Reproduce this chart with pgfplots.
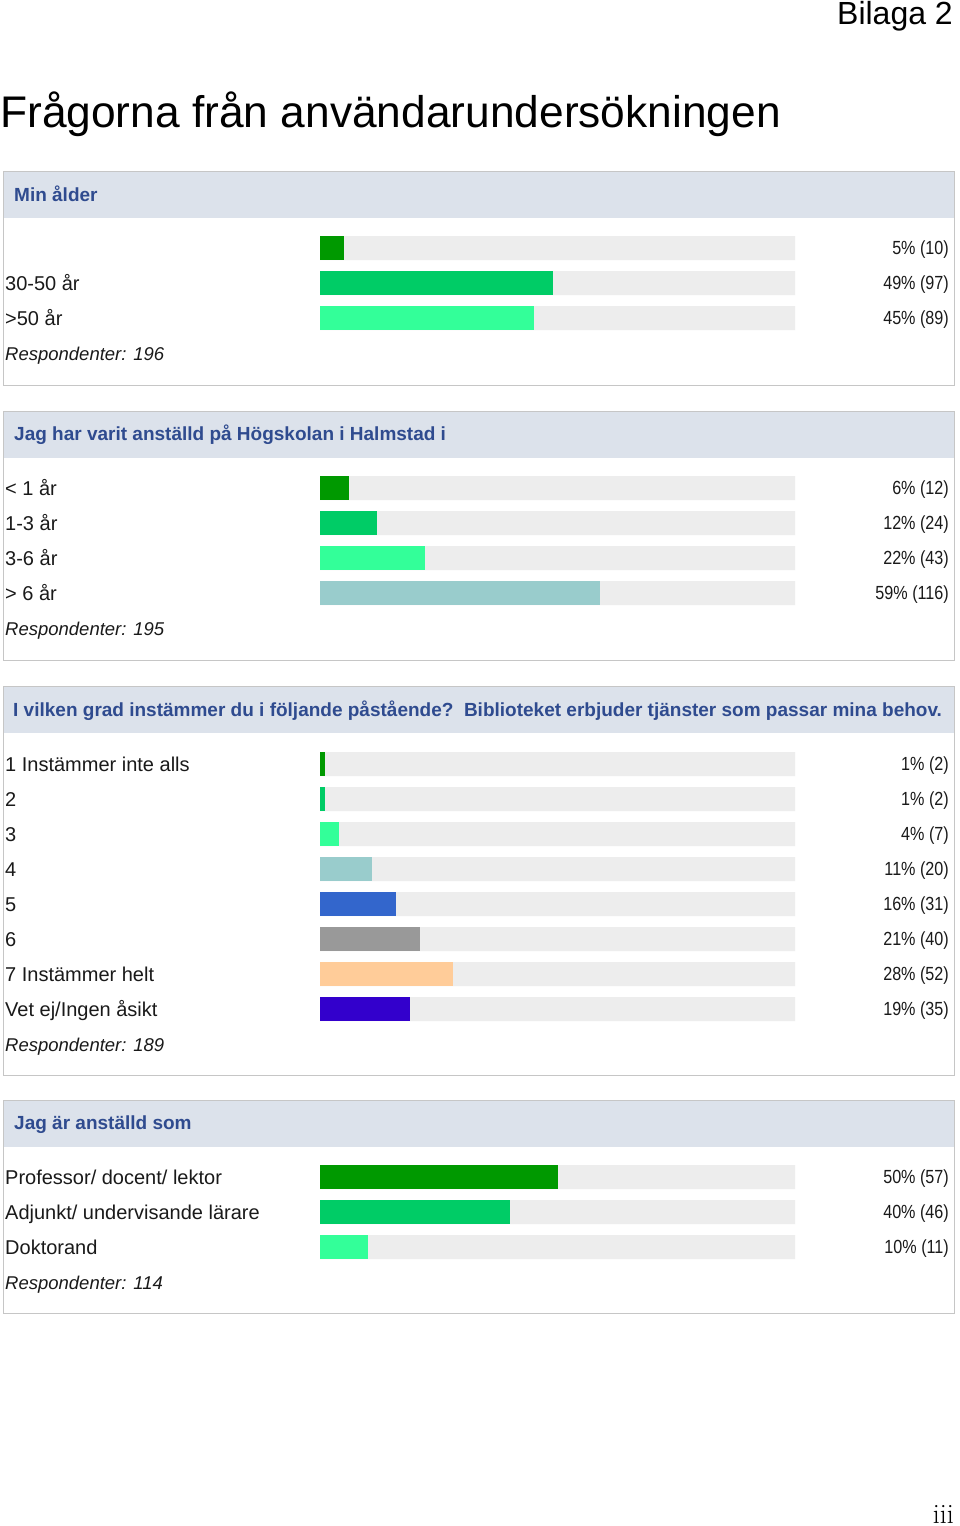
\documentclass[border=0pt]{standalone}
\usepackage{fontspec}
\setmainfont{Liberation Sans}
\newfontfamily\numfont[FakeStretch=0.85]{Liberation Sans}
\newfontfamily\lmfont{Latin Modern Roman}
\usepackage{pgfplots}
\pgfplotsset{compat=1.18}
\definecolor{cA}{HTML}{009900}
\definecolor{cB}{HTML}{00CC66}
\definecolor{cC}{HTML}{33FF99}
\definecolor{cD}{HTML}{99CCCC}
\definecolor{cE}{HTML}{3366CC}
\definecolor{cF}{HTML}{999999}
\definecolor{cG}{HTML}{FFCC99}
\definecolor{cH}{HTML}{3300CC}
\definecolor{hdr}{HTML}{DCE2EB}
\definecolor{hdrtext}{HTML}{2F4B8F}
\definecolor{brd}{HTML}{C6C6C6}
\definecolor{trk}{HTML}{EDEDED}
\definecolor{txt}{HTML}{1A1A1A}
\newcommand\rowfont{\fontsize{20}{24}\selectfont}
\newcommand\resp[1]{{\itshape\fontsize{18.5}{22}\selectfont #1}}
\newcommand\pctfont{\numfont\fontsize{19}{22}\selectfont}
\newcommand\hfont{\bfseries\fontsize{19}{22}\selectfont}
\pgfplotsset{
  panel/.style={
    at={(320pt,#1)}, anchor=north west,
    scale only axis, width=475pt,
    xmin=0, xmax=100, y dir=reverse,
    axis line style={draw=none}, tick style={draw=none},
    major tick length=0pt,
    xtick=\empty, clip=false,
    yticklabel style={anchor=base west, inner sep=0pt, xshift=-315pt, yshift=-7pt, font=\rowfont, text=txt},
  },
  bgbar/.style={xbar, bar width=24pt, bar shift=0pt, draw=none, fill=trk,
    point meta=explicit symbolic, nodes near coords,
    every node near coord/.append style={anchor=base east, inner sep=0pt, xshift=154pt, yshift=-6.5pt, font=\pctfont, text=txt}},
  fgbar/.style={xbar, bar width=24pt, bar shift=0pt, draw=none, fill=#1},
}
\begin{document}
\begin{tikzpicture}[x=1pt,y=1pt]
\path[use as bounding box] (0,0) rectangle (960,-1526);
% page titles
\node[anchor=base east, inner sep=0pt, font=\fontsize{32}{36}\selectfont] at (953,-24) {Bilaga 2};
\node[anchor=base west, inner sep=0pt, font=\fontsize{44.3}{50}\selectfont] at (0,-127) {Frågorna från användarundersökningen};
\node[anchor=base east, inner sep=0pt, font=\lmfont\fontsize{28}{32}\selectfont] at (954,-1523) {iii};
% panel frames
\draw[brd, fill=white] (3,-171) rectangle (954,-385);
\fill[hdr] (3.5,-171.5) rectangle (953.5,-218);
\node[anchor=base west, inner sep=0pt, font=\hfont, text=hdrtext] at (14,-201) {Min ålder};
\draw[brd, fill=white] (3,-411) rectangle (954,-660);
\fill[hdr] (3.5,-411.5) rectangle (953.5,-458);
\node[anchor=base west, inner sep=0pt, font=\hfont, text=hdrtext] at (14,-440) {Jag har varit anställd på Högskolan i Halmstad i};
\draw[brd, fill=white] (3,-686) rectangle (954,-1075);
\fill[hdr] (3.5,-686.5) rectangle (953.5,-733);
\node[anchor=base west, inner sep=0pt, font=\hfont, text=hdrtext] at (13,-716) {I vilken grad instämmer du i följande påstående?\ \ Biblioteket erbjuder tjänster som passar mina behov.};
\draw[brd, fill=white] (3,-1100) rectangle (954,-1313);
\fill[hdr] (3.5,-1100.5) rectangle (953.5,-1147);
\node[anchor=base west, inner sep=0pt, font=\hfont, text=hdrtext] at (14,-1129) {Jag är anställd som};
% Panel 1
\begin{axis}[panel={-230.5pt}, height=140pt, ymin=-0.5, ymax=3.5,
  ytick={0,1,2,3}, yticklabels={{}, 30-50 år, >50 år, \resp{Respondenter: 196}}]
  \addplot[bgbar] coordinates {(100,0) [5\% (10)] (100,1) [49\% (97)] (100,2) [45\% (89)]};
  \addplot[fgbar=cA] coordinates {(5,0)};
  \addplot[fgbar=cB] coordinates {(49,1)};
  \addplot[fgbar=cC] coordinates {(45,2)};
\end{axis}
% Panel 2
\begin{axis}[panel={-470.5pt}, height=175pt, ymin=-0.5, ymax=4.5,
  ytick={0,1,2,3,4}, yticklabels={< 1 år, 1-3 år, 3-6 år, > 6 år, \resp{Respondenter: 195}}]
  \addplot[bgbar] coordinates {(100,0) [6\% (12)] (100,1) [12\% (24)] (100,2) [22\% (43)] (100,3) [59\% (116)]};
  \addplot[fgbar=cA] coordinates {(6,0)};
  \addplot[fgbar=cB] coordinates {(12,1)};
  \addplot[fgbar=cC] coordinates {(22,2)};
  \addplot[fgbar=cD] coordinates {(59,3)};
\end{axis}
% Panel 3
\begin{axis}[panel={-746.5pt}, height=315pt, ymin=-0.5, ymax=8.5,
  ytick={0,...,8}, yticklabels={1 Instämmer inte alls, 2, 3, 4, 5, 6, 7 Instämmer helt, Vet ej/Ingen åsikt, \resp{Respondenter: 189}}]
  \addplot[bgbar] coordinates {(100,0) [1\% (2)] (100,1) [1\% (2)] (100,2) [4\% (7)] (100,3) [11\% (20)] (100,4) [16\% (31)] (100,5) [21\% (40)] (100,6) [28\% (52)] (100,7) [19\% (35)]};
  \addplot[fgbar=cA] coordinates {(1,0)};
  \addplot[fgbar=cB] coordinates {(1,1)};
  \addplot[fgbar=cC] coordinates {(4,2)};
  \addplot[fgbar=cD] coordinates {(11,3)};
  \addplot[fgbar=cE] coordinates {(16,4)};
  \addplot[fgbar=cF] coordinates {(21,5)};
  \addplot[fgbar=cG] coordinates {(28,6)};
  \addplot[fgbar=cH] coordinates {(19,7)};
\end{axis}
% Panel 4
\begin{axis}[panel={-1159.5pt}, height=140pt, ymin=-0.5, ymax=3.5,
  ytick={0,1,2,3}, yticklabels={Professor/ docent/ lektor, Adjunkt/ undervisande lärare, Doktorand, \resp{Respondenter: 114}}]
  \addplot[bgbar] coordinates {(100,0) [50\% (57)] (100,1) [40\% (46)] (100,2) [10\% (11)]};
  \addplot[fgbar=cA] coordinates {(50,0)};
  \addplot[fgbar=cB] coordinates {(40,1)};
  \addplot[fgbar=cC] coordinates {(10,2)};
\end{axis}
\end{tikzpicture}
\end{document}
